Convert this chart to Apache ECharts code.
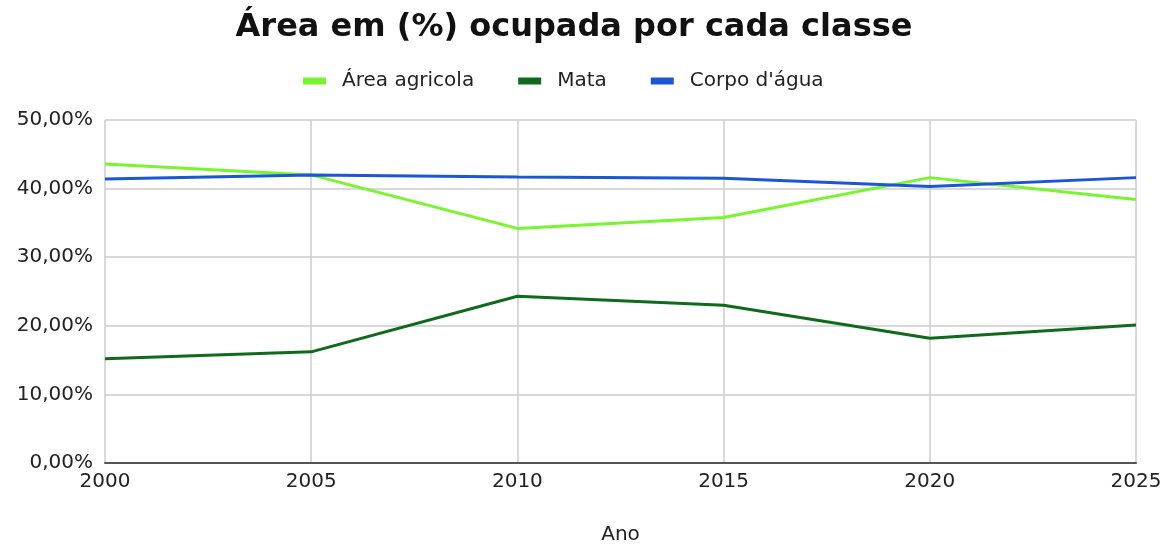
<!DOCTYPE html>
<html>
<head>
<meta charset="utf-8">
<script src="https://cdn.jsdelivr.net/npm/echarts@6/dist/echarts.min.js"></script>
<style>
  html, body { margin: 0; padding: 0; background: #fff; }
  #chart { width: 1173px; height: 545px; }
</style>
</head>
<body>
<div id="chart"></div>
<script>
// Share of the total area (%) taken by each land class, per year
const years = [2000, 2005, 2010, 2015, 2020, 2025];
const areaAgricola = [43.6, 42.0, 34.2, 35.8, 41.6, 38.4];
const mata = [15.2, 16.2, 24.3, 23.0, 18.2, 20.1];
const corpoDagua = [41.4, 42.0, 41.7, 41.5, 40.3, 41.6];
const seriesNames = ['Área agricola', 'Mata', 'Corpo d\'água'];
const seriesColors = ['#77f52e', '#0f6a1d', '#1b56d6'];

const fontFamily = '"DejaVu Sans", Verdana, sans-serif';

const toPairs = (vals) => years.map((y, i) => [y, vals[i]]);
const fmtPct = (v) => v.toFixed(2).replace('.', ',') + '%';

const chart = echarts.init(document.getElementById('chart'));
chart.setOption({
  animation: false,
  backgroundColor: '#ffffff',
  title: {
    text: 'Área em (%) ocupada por cada classe',
    left: 569,
    textAlign: 'center',
    top: 7,
    textStyle: { fontFamily, fontSize: 32, fontWeight: 'bold', color: '#111' }
  },
  legend: {
    top: 66,
    left: 298,
    itemWidth: 23,
    itemHeight: 7,
    itemGap: 44,
    icon: 'rect',
    textStyle: { fontFamily, fontSize: 20, color: '#222', padding: [0, 0, 0, 11] },
    data: seriesNames
  },
  grid: { left: 105, right: 37, top: 120, bottom: 82, outerBoundsMode: 'none' },
  xAxis: {
    type: 'value',
    min: 2000,
    max: 2025,
    interval: 5,
    name: 'Ano',
    nameLocation: 'middle',
    nameGap: 62,
    nameTextStyle: { fontFamily, fontSize: 20, color: '#222' },
    axisLine: { show: true, lineStyle: { color: '#555', width: 2 } },
    axisTick: { show: false },
    axisLabel: { fontFamily, fontSize: 20, color: '#222', margin: 9, formatter: (v) => String(v) },
    splitLine: { show: true, lineStyle: { color: '#cccccc', width: 1.5 } }
  },
  yAxis: {
    type: 'value',
    min: 0,
    max: 50,
    interval: 10,
    axisLine: { show: false },
    axisTick: { show: false },
    axisLabel: { fontFamily, fontSize: 20, color: '#222', margin: 12, formatter: fmtPct },
    splitLine: { show: true, lineStyle: { color: '#cccccc', width: 1.5 } }
  },
  series: [areaAgricola, mata, corpoDagua].map((vals, i) => ({
    name: seriesNames[i],
    type: 'line',
    data: toPairs(vals),
    showSymbol: false,
    symbol: 'none',
    color: seriesColors[i],
    lineStyle: { width: 3, color: seriesColors[i] }
  }))
});
</script>
</body>
</html>
